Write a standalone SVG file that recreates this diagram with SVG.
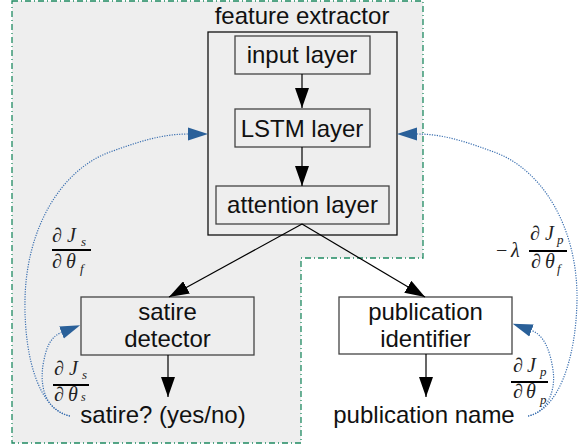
<svg xmlns="http://www.w3.org/2000/svg" width="583" height="445" viewBox="0 0 583 445">
<style>
.t{font-family:"Liberation Sans",Arial,sans-serif;font-size:24px;fill:#111;text-anchor:middle}
.m{font-family:"Liberation Serif","Times New Roman",serif;font-style:italic;font-size:20px;fill:#222}
.s{font-family:"Liberation Serif","Times New Roman",serif;font-style:italic;font-size:13px;fill:#222}
.box{fill:none;stroke:#444;stroke-width:1.3}
.ln{fill:none;stroke:#000;stroke-width:1.2}
.dot{fill:none;stroke:#3a6fb0;stroke-width:1.2;stroke-dasharray:1.2 1.3}
</style>
<defs>
<marker id="ah" markerUnits="userSpaceOnUse" markerWidth="20" markerHeight="14" viewBox="0 0 20 14" refX="20" refY="7" orient="auto"><path d="M0,0 L20,7 L0,14 z" fill="#000"/></marker>
<marker id="bh" markerUnits="userSpaceOnUse" markerWidth="20" markerHeight="14" viewBox="0 0 20 14" refX="0" refY="7" orient="auto"><path d="M0,0.5 L20,7 L0,13.5 z" fill="#2a6099"/></marker>
</defs>
<g id="region">
<polygon points="12,1 423,1 423,258 301,258 301,443 12,443" fill="#eeeeee" stroke="#1f8a62" stroke-width="1.3" stroke-dasharray="6 3 1 3"/>
</g>
<g id="feature-extractor">
<rect x="208" y="32" width="189" height="203" fill="none" stroke="#111" stroke-width="1.3"/>
<text class="t" x="302" y="24">feature extractor</text>
</g>
<g id="input-layer">
<rect class="box" x="235" y="36" width="135" height="38"/>
<text class="t" x="302" y="63">input layer</text>
</g>
<g id="lstm-layer">
<rect class="box" x="235" y="109" width="135" height="38"/>
<text class="t" x="302" y="137">LSTM layer</text>
</g>
<g id="attention-layer">
<rect class="box" x="216" y="186" width="173" height="38"/>
<text class="t" x="302.5" y="213">attention layer</text>
</g>
<g id="satire-detector">
<rect class="box" x="81" y="297" width="173" height="58"/>
<text class="t" x="167.5" y="320">satire</text>
<text class="t" x="167.5" y="347">detector</text>
</g>
<g id="publication-identifier">
<rect class="box" x="339" y="297" width="173" height="57"/>
<text class="t" x="425.5" y="320">publication</text>
<text class="t" x="425.5" y="347">identifier</text>
</g>
<g id="satire-output">
<text class="t" x="163" y="423">satire? (yes/no)</text>
</g>
<g id="publication-output">
<text class="t" x="424" y="423">publication name</text>
</g>
<g id="connectors">
<line class="ln" x1="302" y1="74" x2="302" y2="108" marker-end="url(#ah)"/>
<line class="ln" x1="302" y1="147" x2="302" y2="186" marker-end="url(#ah)"/>
<line class="ln" x1="302" y1="224" x2="169" y2="297" marker-end="url(#ah)"/>
<line class="ln" x1="302" y1="224" x2="425" y2="297" marker-end="url(#ah)"/>
<line class="ln" x1="168" y1="355" x2="168" y2="397" stroke="#444" marker-end="url(#ah)"/>
<line class="ln" x1="426" y1="354" x2="426" y2="397" stroke="#444" marker-end="url(#ah)"/>
<path class="dot" d="M70,416 C40,410 24,360 25,300 C26,230 60,170 110,152 C135,143 160,134 188,134" marker-end="url(#bh)"/>
<path class="dot" d="M70,416 C44,410 40,385 43,365 C46,348 50,337 61.5,332.5" marker-end="url(#bh)"/>
<path class="dot" d="M528,416 C558,410 576,360 577,300 C578,230 544,170 494,152 C469,143 445,134 417,134" marker-end="url(#bh)"/>
<path class="dot" d="M528,416 C548,412 556,390 553,370 C550,350 544,335 531.5,330.5" marker-end="url(#bh)"/>
</g>
<g id="grad-sf">
<text class="m" x="52" y="242">∂</text><text class="m" x="67" y="242">J</text><text class="s" x="81" y="246">s</text>
<rect x="52" y="249" width="39" height="2" fill="#000"/>
<text class="m" x="52" y="268">∂</text><text class="m" x="66" y="268">θ</text><text class="s" x="80" y="273">f</text>
</g>
<g id="grad-ss">
<text class="m" x="54" y="375">∂</text><text class="m" x="69" y="375">J</text><text class="s" x="82" y="379">s</text>
<rect x="53" y="384" width="36" height="2" fill="#000"/>
<text class="m" x="54" y="401">∂</text><text class="m" x="68" y="401">θ</text><text class="s" x="81" y="401" style="font-size:12px">s</text>
</g>
<g id="grad-pf">
<text x="496" y="257" style="font-family:'Liberation Serif',serif;font-size:20px;fill:#222">−</text><text class="m" x="511" y="257">λ</text>
<text class="m" x="530" y="240">∂</text><text class="m" x="545" y="240">J</text><text class="s" x="557" y="244">p</text>
<rect x="529" y="250" width="38" height="2" fill="#000"/>
<text class="m" x="531" y="268">∂</text><text class="m" x="545" y="268">θ</text><text class="s" x="557" y="273">f</text>
</g>
<g id="grad-pp">
<text class="m" x="513" y="372">∂</text><text class="m" x="527" y="372">J</text><text class="s" x="540" y="376">p</text>
<rect x="511" y="381" width="37" height="2" fill="#000"/>
<text class="m" x="513" y="398">∂</text><text class="m" x="526" y="398">θ</text><text class="s" x="540" y="404">p</text>
</g>
</svg>
